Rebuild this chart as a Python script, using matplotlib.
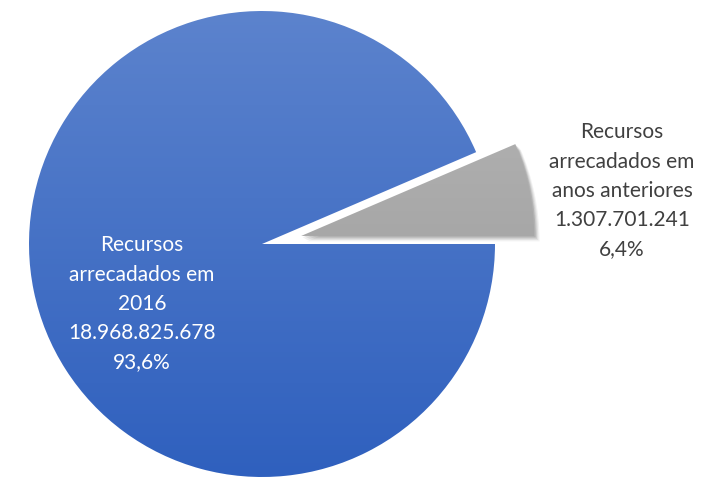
import matplotlib
matplotlib.use("Agg")
import matplotlib.pyplot as plt
import numpy as np
from matplotlib.colors import LinearSegmentedColormap
from matplotlib.patches import Wedge

categories = ["Recursos\narrecadados em\nanos anteriores", "Recursos\narrecadados em\n2016"]
values = [1307701241, 18968825678]
value_labels = ["1.307.701.241", "18.968.825.678"]
pct_labels = ["6,4%", "93,6%"]

W, H = 704, 482
fig = plt.figure(figsize=(W / 100, H / 100), dpi=100)
ax = fig.add_axes([0, 0, 1, 1])

center = (262, H - 244)
radius = 233
wedges, _ = ax.pie(values, startangle=0, counterclock=True, radius=radius,
                   center=center, explode=[40, 0], frame=True,
                   wedgeprops=dict(linewidth=0))
ax.set_xlim(0, W)
ax.set_ylim(0, H)
ax.set_aspect("equal")
ax.axis("off")

grad_colors = [("#959595", "#b8b8b8"), ("#2f60be", "#5c83cd")]
for w, (c0, c1) in zip(wedges, grad_colors):
    w.set_facecolor("none")
    cmap = LinearSegmentedColormap.from_list("g", [c0, c1])
    g = np.linspace(0, 1, 256).reshape(-1, 1)
    im = ax.imshow(g, cmap=cmap, origin="lower", aspect="auto",
                   extent=(center[0] - radius, center[0] + radius + 60,
                           center[1] - radius, center[1] + radius), zorder=2)
    im.set_clip_path(w)

# soft shadow under grey wedge
gw = wedges[0]
for i, a in enumerate([0.12, 0.09, 0.07, 0.05]):
    d = 1.5 + i * 1.3
    s = Wedge((gw.center[0] + d, gw.center[1] - d), gw.r, gw.theta1, gw.theta2,
              facecolor="black", alpha=a, linewidth=0, zorder=1)
    ax.add_patch(s)

font = ["Lato", "DejaVu Sans"]
fs = 15
# blue label
ax.text(142, H - 304, f"{categories[1]}\n{value_labels[1]}\n{pct_labels[1]}",
        ha="center", va="center", color="white", fontsize=fs, family=font,
        linespacing=1.58, zorder=5)
# grey label
ax.text(622, H - 191, f"{categories[0]}\n{value_labels[0]}\n{pct_labels[0]}",
        ha="center", va="center", color="#404040", fontsize=fs, family=font,
        linespacing=1.58, zorder=5)

fig.savefig("out.png", dpi=100)
